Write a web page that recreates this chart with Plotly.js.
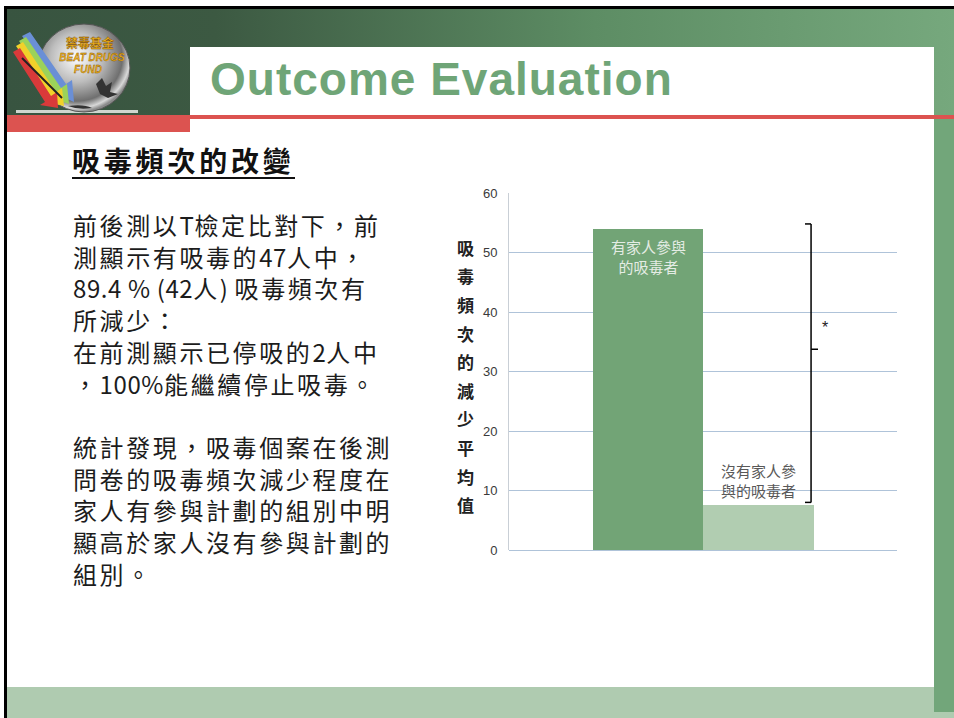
<!DOCTYPE html>
<html lang="zh-Hant"><head><meta charset="utf-8">
<script src="https://cdn.plot.ly/plotly-3.0.1.min.js"></script>
<style>
body{margin:0;background:#fff;}
#slide{position:relative;width:954px;height:718px;overflow:hidden;background:#fff;font-family:"Noto Sans CJK TC","Noto Sans",sans-serif;}
.abs{position:absolute;}
.lat{letter-spacing:0.6px;}
#chart{position:absolute;left:0;top:0;width:954px;height:718px;}
</style></head><body>
<div id="slide">
  <div class="abs" style="left:7px;top:9px;width:947px;height:106px;background:linear-gradient(90deg,#385440 0%,#3c5942 22%,#5d8d64 62%,#76a87d 100%);"></div>
  <div class="abs" style="left:4px;top:6px;width:950px;height:3px;background:#000;"></div>
  <div class="abs" style="left:4px;top:6px;width:3px;height:712px;background:#000;"></div>
  <div class="abs" style="left:190px;top:47px;width:744px;height:68px;background:#fff;"></div>
  <div class="abs" style="left:210px;top:56px;font-family:'Liberation Sans',Arial,sans-serif;font-weight:bold;font-size:46px;line-height:46px;letter-spacing:1px;color:#6fa577;white-space:nowrap;">Outcome Evaluation</div>
  <div class="abs" style="left:7px;top:115px;width:947px;height:4px;background:#dc5350;"></div>
  <div class="abs" style="left:7px;top:115px;width:183px;height:17px;background:#dc5350;"></div>
  <div class="abs" style="left:7px;top:687px;width:947px;height:31px;background:#afcbb0;"></div>
  <div class="abs" style="left:934px;top:119px;width:20px;height:593px;background:#72a67a;"></div>
  <svg class="abs" style="left:8px;top:22px;" width="130" height="96" viewBox="0 0 130 96">
    <defs>
      <radialGradient id="disc" cx="0.42" cy="0.38" r="0.62">
        <stop offset="0" stop-color="#ffffff"/>
        <stop offset="0.45" stop-color="#bdbdbd"/>
        <stop offset="0.8" stop-color="#6f6f6f"/>
        <stop offset="0.93" stop-color="#d8d8d8"/>
        <stop offset="1" stop-color="#8a8a8a"/>
      </radialGradient>
    </defs>
    <rect x="8" y="88" width="122" height="3" fill="#cfd6cf"/>
    <ellipse cx="76" cy="46" rx="46" ry="44" fill="url(#disc)" stroke="#555" stroke-width="1"/>
    <polygon points="14,14 22,10 58,62 64,58 66,80 48,72 53,68" fill="#6a8fd6"/>
    <polygon points="11,19 18,15 53,66 59,62 61,82 43,76 48,72" fill="#9bd25a"/>
    <polygon points="8,24 15,20 48,70 54,66 56,84 38,80 43,76" fill="#f1d12a"/>
    <polygon points="5,30 12,26 43,74 49,70 50,86 32,83 37,80" fill="#d93a3a"/>
    <line x1="14" y1="36" x2="54" y2="76" stroke="#222" stroke-width="2"/>
    <text x="82" y="26" font-family="'Noto Sans CJK TC'" font-weight="bold" font-size="12" fill="#f0b21c" text-anchor="middle" stroke="#7a4b00" stroke-width="0.4">禁毒基金</text>
    <text x="84" y="39" font-family="'Liberation Sans'" font-weight="bold" font-style="italic" font-size="10" fill="#f0b21c" text-anchor="middle" stroke="#7a4b00" stroke-width="0.3">BEAT DRUGS</text>
    <text x="80" y="51" font-family="'Liberation Sans'" font-weight="bold" font-style="italic" font-size="10" fill="#f0b21c" text-anchor="middle" stroke="#7a4b00" stroke-width="0.3">FUND</text>
    <path d="M88 62 l6 -6 l4 8 l6 -4 l-2 10 l8 2 l-10 4 l-8 -4 z" fill="#333"/>
    <path d="M60 84 q10 4 24 2 q-8 -4 -24 -2 z" fill="#333"/>
  </svg>
  <div class="abs" style="left:72px;top:143px;font-size:28px;font-weight:bold;letter-spacing:3.8px;line-height:34px;color:#111;white-space:nowrap;border-bottom:2px solid #111;">吸毒頻次的改變</div>
  <div class="abs" id="body" style="left:73px;top:209px;font-size:24px;letter-spacing:2.6px;line-height:31.7px;color:#1c1c1c;white-space:nowrap;"></div>
  <div id="chart"></div>
</div>
<script>
// ---- data ----
const categories = ['有家人參與的吸毒者', '沒有家人參與的吸毒者'];
const barLabels = ['有家人參與<br>的吸毒者', '沒有家人參<br>與的吸毒者'];
const values = [54, 7.6];
const yTickVals = [0, 10, 20, 30, 40, 50, 60];
const yTitle = '吸毒頻次的減少平均值';
const significance = '*';
const bodyLines = [
  '前後測以T檢定比對下，前',
  '測顯示有吸毒的47人中，',
  '89.4 % (42人) 吸毒頻次有',
  '所減少：',
  '在前測顯示已停吸的2人中',
  '，100%能繼續停止吸毒。',
  '',
  '統計發現，吸毒個案在後測',
  '問卷的吸毒頻次減少程度在',
  '家人有參與計劃的組別中明',
  '顯高於家人沒有參與計劃的',
  '組別。'
];

// tighter spacing for Latin runs, as in the original text box
function fmt(line) {
  if (line === '') return '&nbsp;';
  return line.replace(/([0-9A-Za-z.%() ]+)/g, '<span class="lat">$1</span>');
}
document.getElementById('body').innerHTML = bodyLines.map(fmt).join('<br>');

const barColors = ['#72a476', '#b1cdb1'];

const trace = {
  type: 'bar',
  x: categories,
  y: values,
  marker: {color: barColors, line: {width: 0}},
  width: [1, 1],
  hoverinfo: 'skip'
};

const annotations = [];
annotations.push({
  x: categories[0], y: values[0], xref: 'x', yref: 'y',
  text: barLabels[0], showarrow: false, yanchor: 'top', yshift: -5,
  font: {family: 'Noto Sans CJK TC', size: 15, color: '#e4ece4'}
});
annotations.push({
  x: categories[1], y: values[1], xref: 'x', yref: 'y',
  text: barLabels[1], showarrow: false, yanchor: 'bottom', yshift: 2,
  font: {family: 'Noto Sans CJK TC', size: 15, color: '#595959'}
});
const chars = yTitle.split('');
chars.forEach((c, i) => {
  annotations.push({
    xref: 'paper', yref: 'paper', x: -0.111, y: 0.848 - i * 0.0801,
    text: c, showarrow: false, xanchor: 'center', yanchor: 'middle',
    font: {family: 'Noto Sans CJK TC', size: 17, color: '#222', weight: 'bold'}
  });
});

// significance bracket (derived from the bar values)
const bTop = values[0] + 0.8;
const bBot = values[1] + 0.4;
const bMid = bBot + 0.55 * (bTop - bBot);
const bx = 1.474;
const lineStyle = {color: '#000', width: 1.5};
const shapes = [
  {type: 'line', xref: 'x', yref: 'y', x0: bx, x1: bx, y0: bBot, y1: bTop, line: lineStyle},
  {type: 'line', xref: 'x', yref: 'y', x0: bx - 0.055, x1: bx, y0: bTop, y1: bTop, line: lineStyle},
  {type: 'line', xref: 'x', yref: 'y', x0: bx - 0.055, x1: bx, y0: bBot, y1: bBot, line: lineStyle},
  {type: 'line', xref: 'x', yref: 'y', x0: bx, x1: bx + 0.063, y0: bMid, y1: bMid, line: lineStyle}
];
annotations.push({
  xref: 'x', yref: 'y', x: bx + 0.125, y: bMid + 3.6, text: significance, showarrow: false,
  font: {family: 'Liberation Sans', size: 16, color: '#222'}
});

const layout = {
  width: 954, height: 718,
  margin: {l: 509, r: 57, t: 193, b: 168, pad: 0},
  paper_bgcolor: 'rgba(0,0,0,0)',
  plot_bgcolor: 'rgba(0,0,0,0)',
  showlegend: false,
  bargap: 0,
  xaxis: {
    type: 'category', range: [-1.257, 2.251], fixedrange: true,
    showgrid: false, zeroline: false, showline: false, showticklabels: false, ticks: ''
  },
  yaxis: {
    range: [0, 60], tickvals: yTickVals, fixedrange: true,
    showgrid: true, gridcolor: '#afc3d9', gridwidth: 1,
    zeroline: true, zerolinecolor: '#afc3d9', zerolinewidth: 1,
    showline: true, linecolor: '#c9cfd6', linewidth: 1,
    ticks: '', ticklabelstandoff: 8,
    tickfont: {family: 'Liberation Sans, Arial, sans-serif', size: 13, color: '#3a3a3a'}
  },
  annotations: annotations,
  shapes: shapes
};

Plotly.newPlot('chart', [trace], layout, {displayModeBar: false, staticPlot: true});
</script>
</body></html>
